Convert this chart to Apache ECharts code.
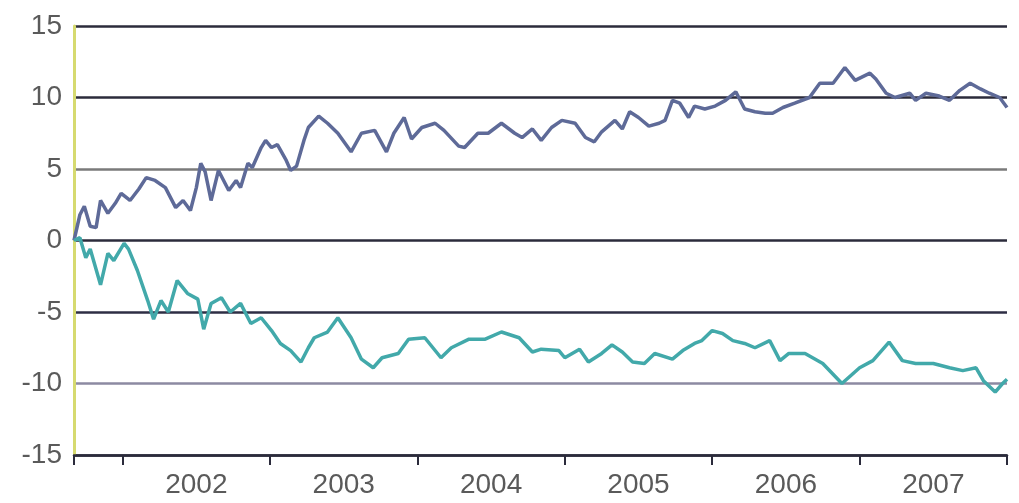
<!DOCTYPE html>
<html><head><meta charset="utf-8">
<script src="https://cdn.jsdelivr.net/npm/echarts@6/dist/echarts.min.js"></script>
<style>html,body{margin:0;padding:0;background:#fff}#c{width:1019px;height:503px}</style>
</head><body><div id="c"></div>
<script>
// x values in decimal years
const blueYears = [2001.67,2001.71,2001.74,2001.78,2001.82,2001.85,2001.90,2001.95,2001.99,2002.05,2002.11,2002.16,2002.22,2002.29,2002.36,2002.41,2002.46,2002.50,2002.53,2002.56,2002.60,2002.65,2002.72,2002.77,2002.80,2002.85,2002.88,2002.94,2002.97,2003.01,2003.05,2003.11,2003.14,2003.18,2003.23,2003.26,2003.33,2003.39,2003.46,2003.55,2003.62,2003.71,2003.79,2003.84,2003.91,2003.96,2004.03,2004.12,2004.18,2004.28,2004.32,2004.41,2004.48,2004.57,2004.66,2004.71,2004.78,2004.84,2004.91,2004.98,2005.07,2005.14,2005.20,2005.25,2005.34,2005.39,2005.44,2005.50,2005.57,2005.64,2005.68,2005.73,2005.78,2005.84,2005.88,2005.95,2006.02,2006.09,2006.16,2006.22,2006.29,2006.36,2006.41,2006.48,2006.56,2006.66,2006.73,2006.82,2006.90,2006.97,2007.07,2007.11,2007.18,2007.24,2007.34,2007.38,2007.45,2007.54,2007.61,2007.68,2007.75,2007.82,2007.88,2007.95,2008.00];
const blueValues = [0.0,1.8,2.4,1.0,0.9,2.8,1.9,2.6,3.3,2.8,3.6,4.4,4.2,3.7,2.3,2.8,2.1,3.7,5.4,4.8,2.8,4.9,3.5,4.2,3.7,5.4,5.1,6.5,7.0,6.5,6.7,5.6,4.9,5.2,7.0,7.9,8.7,8.2,7.5,6.2,7.5,7.7,6.2,7.5,8.6,7.1,7.9,8.2,7.7,6.6,6.5,7.5,7.5,8.2,7.5,7.2,7.8,7.0,7.9,8.4,8.2,7.2,6.9,7.6,8.4,7.8,9.0,8.6,8.0,8.2,8.4,9.8,9.6,8.6,9.4,9.2,9.4,9.8,10.4,9.2,9.0,8.9,8.9,9.3,9.6,10.0,11.0,11.0,12.1,11.2,11.7,11.3,10.3,10.0,10.3,9.8,10.3,10.1,9.8,10.5,11.0,10.6,10.3,10.0,9.3];
const tealYears = [2001.67,2001.71,2001.75,2001.78,2001.85,2001.90,2001.94,2002.01,2002.04,2002.10,2002.17,2002.21,2002.26,2002.31,2002.37,2002.44,2002.51,2002.55,2002.60,2002.67,2002.73,2002.80,2002.87,2002.94,2003.01,2003.07,2003.14,2003.21,2003.26,2003.30,2003.39,2003.46,2003.55,2003.62,2003.70,2003.76,2003.87,2003.94,2004.05,2004.16,2004.23,2004.35,2004.46,2004.57,2004.69,2004.78,2004.84,2004.96,2005.00,2005.10,2005.16,2005.25,2005.32,2005.39,2005.46,2005.54,2005.61,2005.73,2005.80,2005.88,2005.93,2006.00,2006.07,2006.14,2006.22,2006.29,2006.39,2006.46,2006.52,2006.63,2006.75,2006.88,2007.00,2007.09,2007.20,2007.29,2007.38,2007.50,2007.61,2007.70,2007.79,2007.84,2007.92,2007.97,2008.00];
const tealValues = [0.0,0.2,-1.2,-0.6,-3.1,-0.9,-1.4,-0.2,-0.6,-2.1,-4.2,-5.5,-4.2,-5.0,-2.8,-3.7,-4.1,-6.2,-4.4,-4.0,-5.0,-4.4,-5.8,-5.4,-6.3,-7.2,-7.7,-8.5,-7.5,-6.8,-6.4,-5.4,-6.8,-8.3,-8.9,-8.2,-7.9,-6.9,-6.8,-8.2,-7.5,-6.9,-6.9,-6.4,-6.8,-7.8,-7.6,-7.7,-8.2,-7.6,-8.5,-7.9,-7.3,-7.8,-8.5,-8.6,-7.9,-8.3,-7.7,-7.2,-7.0,-6.3,-6.5,-7.0,-7.2,-7.5,-7.0,-8.4,-7.9,-7.9,-8.6,-10.0,-8.9,-8.4,-7.1,-8.4,-8.6,-8.6,-8.9,-9.1,-8.9,-9.8,-10.6,-10.0,-9.7];
const yearTicks = [2001.67,2002,2003,2004,2005,2006,2007,2008];
const yearLabels = [2002.5,2003.5,2004.5,2005.5,2006.5,2007.5];

const chart = echarts.init(document.getElementById('c'));
chart.setOption({
  animation:false,
  backgroundColor:'#ffffff',
  grid:{left:74,right:12,top:26,bottom:48},
  xAxis:{type:'value',min:2001.67,max:2008,
    axisLine:{show:true,onZero:false,lineStyle:{color:'#2b2b3b',width:2.5}},
    axisTick:{show:true,customValues:yearTicks,length:10,lineStyle:{color:'#2b2b3b',width:2}},
    axisLabel:{customValues:yearLabels,formatter:v=>String(Math.floor(v)),color:'#5a5a5a',fontSize:28,fontFamily:'Liberation Sans',margin:16},
    splitLine:{show:false}},
  yAxis:{type:'value',min:-15,max:15,interval:5,
    axisLine:{show:true,lineStyle:{color:'#d6da70',width:3}},
    axisTick:{show:false},
    axisLabel:{color:'#5a5a5a',fontSize:28,fontFamily:'Liberation Sans',margin:12},
    splitLine:{show:true,lineStyle:{width:2.5,color:['#2b2b3b','#8c8aa2','#2e2e44','#2b2b3b','#7a7a7a','#2b2b3b','#2b2b3b']}}},
  series:[
    {type:'line',data:blueYears.map((x,i)=>[x,blueValues[i]]),showSymbol:false,lineStyle:{color:'#5e6a98',width:3.5},z:3},
    {type:'line',data:tealYears.map((x,i)=>[x,tealValues[i]]),showSymbol:false,lineStyle:{color:'#42a9aa',width:3.5},z:3}
  ]
});
</script></body></html>
